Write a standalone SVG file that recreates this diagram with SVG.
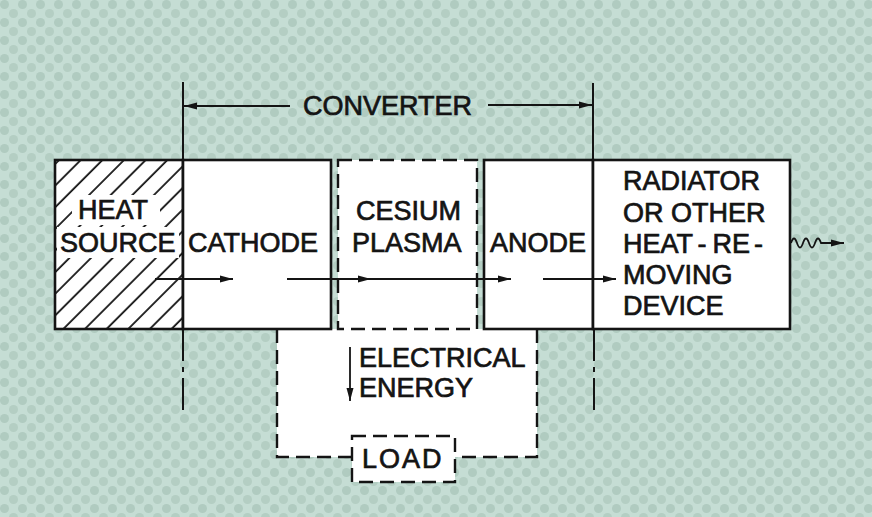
<svg xmlns="http://www.w3.org/2000/svg" width="872" height="517" viewBox="0 0 872 517">
<defs>
<pattern id="halftone" patternUnits="userSpaceOnUse" width="18" height="18">
<rect width="18" height="18" fill="#c5ddd4"/>
<circle cx="4.5" cy="4.5" r="4.5" fill="#b0cbc0"/>
<circle cx="13.5" cy="13.5" r="4.5" fill="#b4cec3"/>
</pattern>
<pattern id="hatch" patternUnits="userSpaceOnUse" width="15.3" height="10" patternTransform="rotate(45)">
<line x1="2" y1="0" x2="2" y2="10" stroke="#141414" stroke-width="1.8"/>
</pattern>
<marker id="ah" markerUnits="userSpaceOnUse" markerWidth="14" markerHeight="10" refX="13" refY="4" orient="auto">
<path d="M0,0.5 L13,4 L0,7.5 z" fill="#141414"/>
</marker>
</defs>
<style>
.t{font-family:"Liberation Sans",Arial,sans-serif;font-size:27px;fill:#141414;stroke:#141414;stroke-width:0.7}
.box{fill:#ffffff;stroke:#141414;stroke-width:2.6}
.dbox{fill:#ffffff;stroke:#141414;stroke-width:2.4;stroke-dasharray:14 7}
.ln{fill:none;stroke:#141414;stroke-width:1.8}
.dl{fill:none;stroke:#141414;stroke-width:2}
.dd{fill:none;stroke:#141414;stroke-width:2;stroke-dasharray:32 6 5 6}
.dash{fill:none;stroke:#141414;stroke-width:2.4;stroke-dasharray:14 7}
</style>
<rect width="872" height="517" fill="url(#halftone)"/>

<g id="load-loop">
<rect x="277" y="329" width="260" height="128" fill="#ffffff"/>
<path class="dash" d="M277,329 L277,457 L352,457"/>
<path class="dash" d="M537,329 L537,457 L455,457"/>
</g>

<g id="heat-source">
<rect x="55" y="160" width="128" height="169" fill="#ffffff"/>
<rect x="55" y="160" width="128" height="169" fill="url(#hatch)"/>
<rect x="72" y="195" width="88" height="30" fill="#ffffff"/>
<rect x="57" y="227" width="122" height="31" fill="#ffffff"/>
<rect x="55" y="160" width="128" height="169" fill="none" stroke="#141414" stroke-width="2.6"/>
<text class="t" x="78" y="219">HEAT</text>
<text class="t" x="60" y="252">SOURCE</text>
</g>

<g id="cathode">
<rect class="box" x="183" y="160" width="148" height="169"/>
<text class="t" x="188" y="252">CATHODE</text>
</g>

<g id="cesium-plasma">
<rect class="dbox" x="338" y="160" width="139" height="169"/>
<text class="t" x="356" y="220">CESIUM</text>
<text class="t" x="352" y="252">PLASMA</text>
</g>

<g id="anode">
<rect class="box" x="484" y="160" width="109" height="169"/>
<text class="t" x="490" y="252">ANODE</text>
</g>

<g id="radiator">
<rect class="box" x="593" y="160" width="197" height="169"/>
<text class="t" x="623" y="190">RADIATOR</text>
<text class="t" x="623" y="222">OR OTHER</text>
<text class="t" x="623" y="253">HEAT<tspan dx="6">-</tspan><tspan dx="6">RE</tspan><tspan dx="4">-</tspan></text>
<text class="t" x="623" y="284">MOVING</text>
<text class="t" x="623" y="315">DEVICE</text>
</g>

<g id="load">
<rect class="dbox" x="352" y="436" width="103" height="46"/>
<text class="t" x="362" y="468" letter-spacing="2">LOAD</text>
</g>

<g id="labels">
<text class="t" x="303" y="115">CONVERTER</text>
<text class="t" x="359" y="367">ELECTRICAL</text>
<text class="t" x="359" y="397">ENERGY</text>
</g>

<g id="connectors">
<line class="dl" x1="183" y1="82" x2="183" y2="160"/>
<line class="dl" x1="593" y1="83" x2="593" y2="160"/>
<line class="dd" x1="183" y1="329" x2="183" y2="411"/>
<line class="dd" x1="594" y1="329" x2="594" y2="414"/>
<line class="ln" x1="290" y1="106" x2="184" y2="106" marker-end="url(#ah)"/>
<line class="ln" x1="488" y1="105" x2="592" y2="105" marker-end="url(#ah)"/>
<line class="ln" x1="155" y1="279" x2="233" y2="279" marker-end="url(#ah)"/>
<line class="ln" x1="287" y1="279" x2="371" y2="279" marker-end="url(#ah)"/>
<line class="ln" x1="371" y1="279" x2="511" y2="279" marker-end="url(#ah)"/>
<line class="ln" x1="543" y1="279" x2="616" y2="279" marker-end="url(#ah)"/>
<line class="ln" x1="350" y1="347" x2="350" y2="401" marker-end="url(#ah)"/>
<path class="ln" d="M791,243 c2,-6 4,-6 6,0 s4,6 6,0 s4,-6 6,0 s4,6 6,0 s4,-6 6,0 L844,243" marker-end="url(#ah)"/>
</g>
</svg>
